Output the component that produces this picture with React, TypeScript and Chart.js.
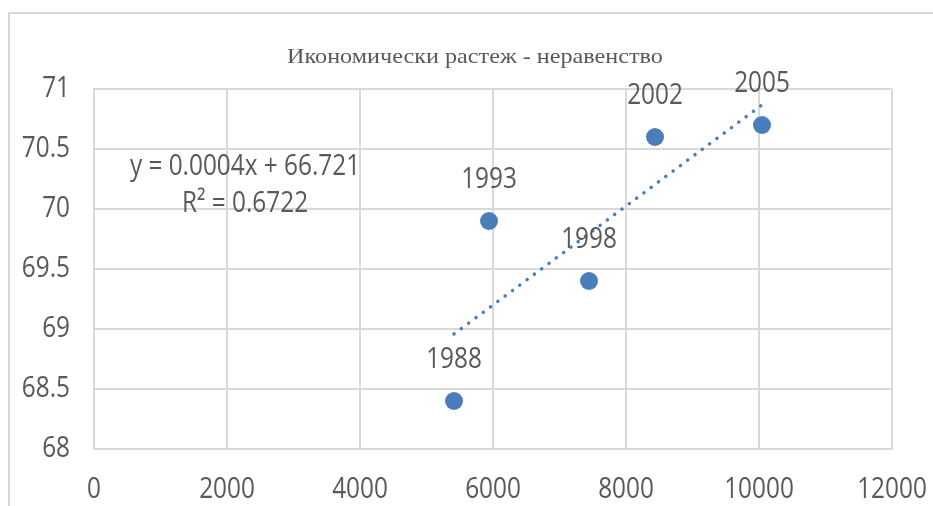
import React, { useEffect, useRef } from "react";
import { Chart, registerables } from "chart.js";

Chart.register(...registerables);

const title = "Икономически растеж - неравенство";
const years = ["1988", "1993", "1998", "2002", "2005"];
const gdp = [5414, 5940, 7444, 8436, 10045];
const gini = [68.4, 69.9, 69.4, 70.6, 70.7];
const equationText = "y = 0.0004x + 66.721";
const r2Text = "R² = 0.6722";
const xTicks = [0, 2000, 4000, 6000, 8000, 10000, 12000];
const yTicks = [68, 68.5, 69, 69.5, 70, 70.5, 71];

const TEXT = "#595959";
const GRID = "#d9d9d9";
const BLUE = "#4a7ebb";
const SANS = "29px 'Open Sans', sans-serif";
const SANS_SX = 0.84;
const SERIF = "22px 'Liberation Serif', serif";
const SERIF_SX = 1.1;

function regression(xs: number[], ys: number[]) {
  const n = xs.length;
  const mx = xs.reduce((a, b) => a + b, 0) / n;
  const my = ys.reduce((a, b) => a + b, 0) / n;
  let sxy = 0, sxx = 0;
  for (let i = 0; i < n; i++) {
    sxy += (xs[i] - mx) * (ys[i] - my);
    sxx += (xs[i] - mx) ** 2;
  }
  const slope = sxy / sxx;
  return { slope, intercept: my - slope * mx };
}

function drawText(ctx: CanvasRenderingContext2D, text: string, x: number, y: number, font: string, sx: number, align: CanvasTextAlign) {
  ctx.save();
  ctx.font = font;
  ctx.fillStyle = TEXT;
  ctx.textAlign = align;
  ctx.textBaseline = "middle";
  ctx.translate(x, y);
  ctx.scale(sx, 1);
  ctx.fillText(text, 0, 0);
  ctx.restore();
}

export default function App() {
  const ref = useRef<HTMLCanvasElement | null>(null);

  useEffect(() => {
    document.body.style.margin = "0";
    const { slope, intercept } = regression(gdp, gini);
    const xmin = Math.min(...gdp);
    const xmax = Math.max(...gdp);
    const trend = [
      { x: xmin, y: slope * xmin + intercept },
      { x: xmax, y: slope * xmax + intercept },
    ];

    const decor = {
      id: "decor",
      beforeDraw(chart: any) {
        const ctx = chart.ctx;
        ctx.save();
        ctx.fillStyle = "#ffffff";
        ctx.fillRect(0, 0, chart.width, chart.height);
        ctx.strokeStyle = GRID;
        ctx.lineWidth = 2;
        ctx.strokeRect(9, 13, 2000, 2000);
        ctx.restore();
      },
      afterDraw(chart: any) {
        const ctx = chart.ctx;
        const xs = chart.scales.x;
        const ys = chart.scales.y;
        drawText(ctx, title, 475, 57, SERIF, SERIF_SX, "center");
        yTicks.forEach((v) => {
          drawText(ctx, String(v), 70, ys.getPixelForValue(v), SANS, SANS_SX, "right");
        });
        xTicks.forEach((v) => {
          drawText(ctx, String(v), xs.getPixelForValue(v), 490, SANS, SANS_SX, "center");
        });
        years.forEach((yr, i) => {
          const px = xs.getPixelForValue(gdp[i]);
          const py = ys.getPixelForValue(gini[i]);
          drawText(ctx, yr, px, py - 41, SANS, SANS_SX, "center");
        });
        drawText(ctx, equationText, 245, 167, SANS, SANS_SX, "center");
        drawText(ctx, r2Text, 245, 204, SANS, SANS_SX, "center");
      },
    };

    const chart = new Chart(ref.current!, {
      type: "scatter",
      data: {
        datasets: [
          {
            data: trend,
            type: "line",
            showLine: true,
            borderColor: BLUE,
            borderWidth: 3.5,
            borderDash: [0.1, 9],
            borderCapStyle: "round",
            pointRadius: 0,
            fill: false,
          },
          {
            data: gdp.map((x, i) => ({ x, y: gini[i] })),
            backgroundColor: BLUE,
            borderColor: BLUE,
            pointRadius: 9,
            borderWidth: 0,
          },
        ],
      },
      options: {
        responsive: false,
        animation: false,
        layout: { padding: { left: 0, right: 41, top: 89, bottom: 0 } },
        plugins: { legend: { display: false }, tooltip: { enabled: false }, title: { display: false } },
        scales: {
          x: {
            type: "linear",
            min: 0,
            max: 12000,
            afterBuildTicks: (s: any) => { s.ticks = xTicks.map((v) => ({ value: v })); },
            afterFit: (s: any) => { s.height = 57; },
            grid: { color: GRID, lineWidth: 2, drawTicks: false },
            border: { color: GRID, width: 2 },
            ticks: { display: false },
          },
          y: {
            type: "linear",
            min: 68,
            max: 71,
            afterBuildTicks: (s: any) => { s.ticks = yTicks.map((v) => ({ value: v })); },
            afterFit: (s: any) => { s.width = 94; },
            grid: { color: GRID, lineWidth: 2, drawTicks: false },
            border: { color: GRID, width: 2 },
            ticks: { display: false },
          },
        },
      },
      plugins: [decor],
    });
    return () => chart.destroy();
  }, []);

  return (
    <div style={{ position: "fixed", left: 0, top: 0, width: 933, height: 506 }}>
      <canvas ref={ref} width={933} height={506} style={{ width: 933, height: 506, display: "block" }} />
    </div>
  );
}
